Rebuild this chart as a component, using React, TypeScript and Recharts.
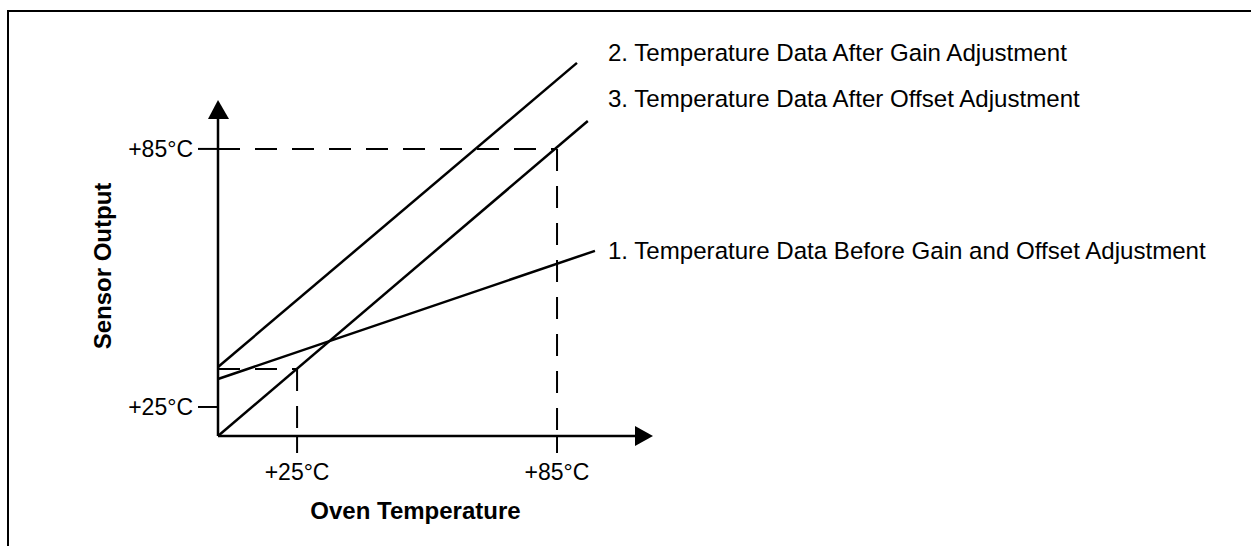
import React from 'react'
import { LineChart, Line, XAxis, YAxis, ReferenceLine, ReferenceDot, Label } from 'recharts'

// axis ranges (°C), tick values
const xDomain = [6.75, 107.15]
const yDomain = [18.25, 108]
const xTicks = [25, 85]
const yTicks = [25, 85]
const yArrowTip = 96.4

// series: sensor output vs oven temperature
const beforeAdj = [
  { x: 6.75, y: 31.5 },
  { x: 93.75, y: 61.3 },
]
const afterGain = [
  { x: 6.75, y: 34.3 },
  { x: 89.6, y: 105.0 },
]
const afterOffset = [
  { x: 6.75, y: 18.25 },
  { x: 92.1, y: 91.5 },
]

// reading guides
const lowGuideY = 33.8
const highGuide = 85

const labelNames = [
  '2. Temperature Data After Gain Adjustment',
  '3. Temperature Data After Offset Adjustment',
  '1. Temperature Data Before Gain and Offset Adjustment',
]
const labelYs = [107.3, 96.6, 61.3]
const labelX = 96.75

const FONT = "'Liberation Sans', Arial, sans-serif"

export default function App() {
  const fmt = (v: number) => `+${v}°C`
  return (
    <div style={{ position: 'absolute', left: 0, top: 0, width: 1251, height: 546, background: '#fff', fontFamily: FONT }}>
      <div
        style={{
          position: 'absolute', left: 7, top: 10, width: 1244, height: 536,
          borderTop: '2px solid #000', borderLeft: '2px solid #000', boxSizing: 'border-box',
        }}
      />
      <div style={{ position: 'absolute', left: 0, top: 0 }}>
        <LineChart width={1251} height={546} margin={{ top: 50, right: 598, left: 78, bottom: 20 }}>
          <XAxis
            type="number"
            dataKey="x"
            domain={xDomain}
            ticks={xTicks}
            tickFormatter={fmt}
            axisLine={false}
            tickSize={17}
            tickMargin={11}
            tickLine={{ stroke: '#000', strokeWidth: 2 }}
            tick={{ fill: '#000', fontSize: 23, fontFamily: FONT }}
            height={90}
          >
            <Label value="Oven Temperature" position="insideBottom" offset={7} dx={-20}
              style={{ fill: '#000', fontSize: 24, fontWeight: 'bold', fontFamily: FONT }} />
          </XAxis>
          <YAxis
            type="number"
            dataKey="y"
            domain={yDomain}
            ticks={yTicks}
            tickFormatter={fmt}
            axisLine={false}
            tickSize={20}
            tickMargin={5}
            tickLine={{ stroke: '#000', strokeWidth: 2 }}
            tick={{ fill: '#000', fontSize: 23, fontFamily: FONT }}
            width={140}
          >
            <Label value="Sensor Output" angle={-90} position="insideLeft" offset={24} dy={23}
              style={{ fill: '#000', fontSize: 24, fontWeight: 'bold', fontFamily: FONT, textAnchor: 'middle' }} />
          </YAxis>

          {/* axes with arrows */}
          <ReferenceLine segment={[{ x: xDomain[0], y: yDomain[0] }, { x: xDomain[0], y: yArrowTip - 3 }]}
            stroke="#000" strokeWidth={2.5} ifOverflow="visible" />
          <ReferenceLine segment={[{ x: xDomain[0], y: yDomain[0] }, { x: xDomain[1] - 3, y: yDomain[0] }]}
            stroke="#000" strokeWidth={2.5} ifOverflow="visible" />
          <ReferenceDot x={xDomain[0]} y={yArrowTip} ifOverflow="visible"
            shape={(p: any) => <polygon points={`${p.cx},${p.cy} ${p.cx - 10},${p.cy + 19} ${p.cx + 11},${p.cy + 19}`} fill="#000" />} />
          <ReferenceDot x={xDomain[1]} y={yDomain[0]} ifOverflow="visible"
            shape={(p: any) => <polygon points={`${p.cx},${p.cy} ${p.cx - 18},${p.cy - 10} ${p.cx - 18},${p.cy + 10}`} fill="#000" />} />

          {/* dashed guides */}
          <ReferenceLine segment={[{ x: xDomain[0], y: highGuide }, { x: highGuide, y: highGuide }]}
            stroke="#000" strokeWidth={2} strokeDasharray="22 15" ifOverflow="visible" />
          <ReferenceLine segment={[{ x: highGuide, y: highGuide }, { x: highGuide, y: yDomain[0] }]}
            stroke="#000" strokeWidth={2} strokeDasharray="22 15" ifOverflow="visible" />
          <ReferenceLine segment={[{ x: xDomain[0], y: lowGuideY }, { x: 25, y: lowGuideY }]}
            stroke="#000" strokeWidth={2} strokeDasharray="22 15" ifOverflow="visible" />
          <ReferenceLine segment={[{ x: 25, y: lowGuideY }, { x: 25, y: yDomain[0] }]}
            stroke="#000" strokeWidth={2} strokeDasharray="22 15" ifOverflow="visible" />

          <Line data={beforeAdj} dataKey="y" stroke="#000" strokeWidth={2.5} dot={false} isAnimationActive={false} />
          <Line data={afterGain} dataKey="y" stroke="#000" strokeWidth={2.5} dot={false} isAnimationActive={false} />
          <Line data={afterOffset} dataKey="y" stroke="#000" strokeWidth={2.5} dot={false} isAnimationActive={false} />

          {labelNames.map((name, i) => (
            <ReferenceDot key={name} x={labelX} y={labelYs[i]} ifOverflow="visible"
              shape={(p: any) => (
                <text x={p.cx} y={p.cy} dy="0.35em" fill="#000" fontSize={24.1} fontFamily={FONT}>{name}</text>
              )} />
          ))}
        </LineChart>
      </div>
    </div>
  )
}
